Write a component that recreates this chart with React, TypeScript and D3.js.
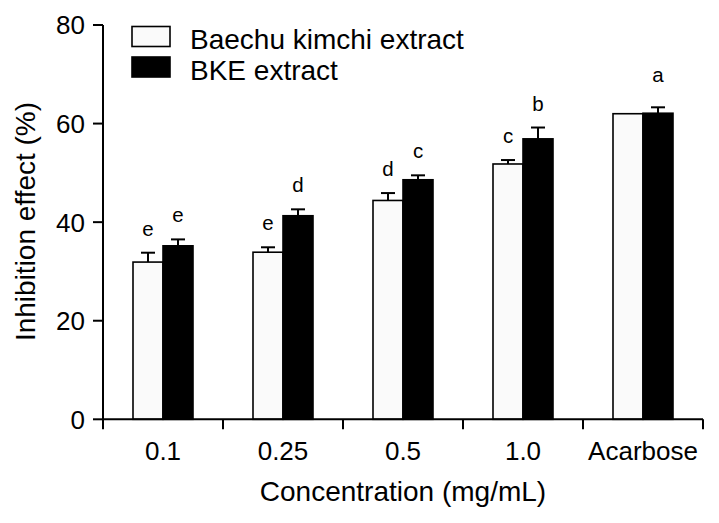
import React from "react";
import * as d3 from "d3";

const categories = ["0.1", "0.25", "0.5", "1.0", "Acarbose"];
const seriesNames = ["Baechu kimchi extract", "BKE extract"];
const baechuValues = [31.9, 33.9, 44.4, 51.8, 62.0];
const baechuErrors = [1.9, 1.0, 1.5, 0.8, 0];
const bkeValues = [35.2, 41.3, 48.6, 56.9, 62.1];
const bkeErrors = [1.3, 1.3, 0.9, 2.3, 1.2];
const baechuLetters = ["e", "e", "d", "c", ""];
const bkeLetters = ["e", "d", "c", "b", "a"];
const yTicks = [0, 20, 40, 60, 80];

const W = 719;
const H = 523;
const FONT = "Liberation Sans, Arial, Helvetica, sans-serif";

export default function App() {
  const x0 = 103;
  const x1 = 703;
  const yBottom = 419.3;
  const yTop = 25;
  const x = d3.scaleBand<string>().domain(categories).range([x0, x1]).paddingInner(0).paddingOuter(0);
  const y = d3.scaleLinear().domain([0, 80]).range([yBottom, yTop]);
  const bw = x.bandwidth() / 4;
  const series = [
    { vals: baechuValues, errs: baechuErrors, letters: baechuLetters, fill: "#fafafa" },
    { vals: bkeValues, errs: bkeErrors, letters: bkeLetters, fill: "#000" },
  ];
  const capW = 14;

  return (
    <svg width={W} height={H} style={{ position: "absolute", left: 0, top: 0, background: "#fff" }} fontFamily={FONT}>
      <rect x={0} y={0} width={W} height={H} fill="#fff" />
      {series.map((s, si) =>
        categories.map((c, i) => {
          const bx = (x(c) as number) + bw + si * bw;
          const top = y(s.vals[i]);
          const cx = bx + bw / 2;
          const errTop = y(s.vals[i] + s.errs[i]);
          return (
            <g key={`${si}-${i}`}>
              {s.errs[i] > 0 && (
                <g stroke="#000" strokeWidth={2}>
                  <line x1={cx} x2={cx} y1={top} y2={errTop} />
                  <line x1={cx - capW / 2} x2={cx + capW / 2} y1={errTop} y2={errTop} />
                </g>
              )}
              <rect x={bx} y={top} width={bw} height={yBottom - top} fill={s.fill} stroke="#000" strokeWidth={1.6} />
              {s.letters[i] && (
                <text x={cx} y={errTop - (i === 4 ? 25 : 17)} textAnchor="middle" fontSize={20.5} fill="#000">
                  {s.letters[i]}
                </text>
              )}
            </g>
          );
        })
      )}
      <line x1={x0} x2={x0} y1={yTop} y2={yBottom} stroke="#000" strokeWidth={2} />
      {yTicks.map((t) => (
        <g key={t}>
          <line x1={x0 - 10} x2={x0} y1={y(t)} y2={y(t)} stroke="#000" strokeWidth={2} />
          <text x={85} y={y(t)} dy="0.36em" textAnchor="end" fontSize={26} fill="#000">
            {t}
          </text>
        </g>
      ))}
      <line x1={x0} x2={x1} y1={yBottom} y2={yBottom} stroke="#000" strokeWidth={2} />
      {[...categories.map((c) => x(c) as number), x1].map((p, i) => (
        <line key={i} x1={p} x2={p} y1={yBottom} y2={yBottom + 10} stroke="#000" strokeWidth={2} />
      ))}
      {categories.map((c) => (
        <text key={c} x={(x(c) as number) + x.bandwidth() / 2} y={460} textAnchor="middle" fontSize={26} fill="#000">
          {c}
        </text>
      ))}
      <text x={(x0 + x1) / 2} y={501} textAnchor="middle" fontSize={28} fill="#000">
        Concentration (mg/mL)
      </text>
      <text transform={`translate(35, 221.5) rotate(-90)`} textAnchor="middle" fontSize={28} fill="#000">
        Inhibition effect (%)
      </text>
      {seriesNames.map((n, i) => (
        <g key={n}>
          <rect x={132} y={26.5 + i * 30.5} width={38} height={20} fill={i === 0 ? "#fafafa" : "#000"} stroke="#000" strokeWidth={1.6} />
          <text x={190} y={49 + i * 31} fontSize={28} fill="#000">
            {n}
          </text>
        </g>
      ))}
    </svg>
  );
}
